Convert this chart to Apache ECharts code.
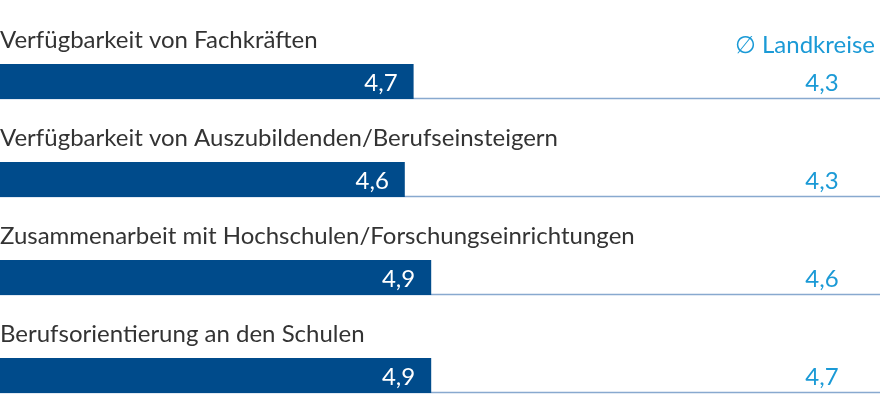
<!DOCTYPE html>
<html>
<head>
<meta charset="utf-8">
<script src="https://cdn.jsdelivr.net/npm/echarts@6/dist/echarts.min.js"></script>
<style>
  html, body { margin: 0; padding: 0; background: #ffffff; }
  #chart { width: 880px; height: 394px; }
</style>
</head>
<body>
<div id="chart"></div>
<script>
const categories = [
  'Verfügbarkeit von Fachkräften',
  'Verfügbarkeit von Auszubildenden/Berufseinsteigern',
  'Zusammenarbeit mit Hochschulen/Forschungseinrichtungen',
  'Berufsorientierung an den Schulen'
];
const values = [4.7, 4.6, 4.9, 4.9];
const landkreise = [4.3, 4.3, 4.6, 4.7];
const averageLabel = '\u2205 Landkreise';

const FONT = 'Lato';
const fmt = v => v.toFixed(1).replace('.', ',');

const chart = echarts.init(document.getElementById('chart'));
chart.setOption({
  animation: false,
  backgroundColor: '#ffffff',
  textStyle: { fontFamily: FONT },
  title: {
    text: averageLabel,
    right: 0,
    top: 28,
    textStyle: { color: '#1b9ad6', fontSize: 24, fontWeight: 'normal', fontFamily: FONT }
  },
  grid: { left: 0, right: 0, top: 81.5, bottom: 18.5 },
  xAxis: { type: 'value', min: 0, max: 10, show: false },
  yAxis: {
    type: 'category', data: categories, inverse: true, boundaryGap: false, show: false
  },
  series: [
    {
      type: 'custom',
      data: categories.map((c, i) => [0, i, landkreise[i]]),
      clip: false,
      z: 1,
      renderItem: function (params, api) {
        const p = api.coord([0, api.value(1)]);
        const w = api.getWidth();
        const i = params.dataIndex;
        return {
          type: 'group',
          children: [
            {
              type: 'line',
              shape: { x1: 0, y1: p[1] + 17, x2: w, y2: p[1] + 17 },
              style: { stroke: '#88a9cf', lineWidth: 1.5 }
            },
            {
              type: 'text',
              style: {
                text: categories[i], x: 0, y: p[1] - 41,
                fill: '#333333', font: '24px ' + FONT,
                textAlign: 'left', textVerticalAlign: 'middle'
              }
            },
            {
              type: 'text',
              style: {
                text: fmt(api.value(2)), x: w - 58, y: p[1] + 1.5,
                fill: '#1b9ad6', font: '24px ' + FONT,
                textAlign: 'center', textVerticalAlign: 'middle'
              }
            }
          ]
        };
      }
    },
    {
      type: 'bar',
      data: values,
      barWidth: 35,
      clip: false,
      z: 2,
      itemStyle: { color: '#004b8b' },
      label: {
        show: true,
        position: 'insideRight',
        distance: 16,
        offset: [0, 1.5],
        color: '#ffffff',
        fontSize: 24,
        fontFamily: FONT,
        formatter: p => fmt(p.value)
      }
    }
  ]
});
</script>
</body>
</html>
